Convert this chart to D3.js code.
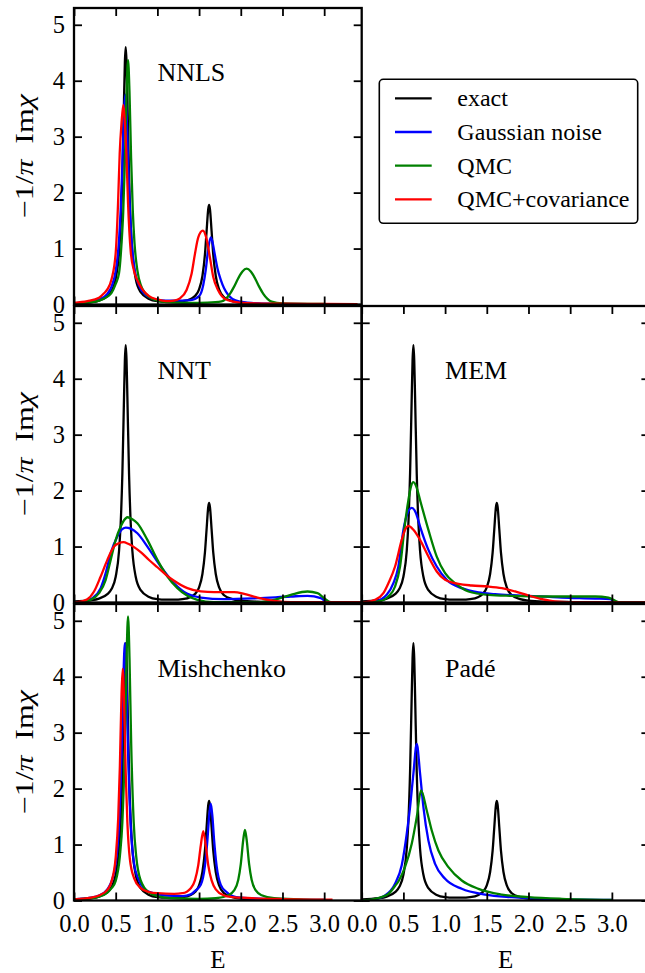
<!DOCTYPE html>
<html><head><meta charset="utf-8">
<script src="https://cdn.jsdelivr.net/npm/d3@7"></script>
<style>
body{margin:0;background:#fff}
svg{display:block}
text{font-family:"Liberation Serif","Times New Roman",serif;fill:#000}
</style>
</head><body>
<svg id="c" width="645" height="973"></svg>
<script>
// ---------- data ----------
const xTicks = [0, 0.5, 1.0, 1.5, 2.0, 2.5, 3.0];
const yTicks = [0, 1, 2, 3, 4, 5];
const seriesNames = ["exact", "Gaussian noise", "QMC", "QMC+covariance"];
const seriesColors = ["#000000", "#0000ff", "#008000", "#ff0000"];
const panelTitles = ["NNLS", "NNT", "MEM", "Mishchenko", "Padé"];

const exact = [[0,0.02],[0.2,0.04],[0.3,0.07],[0.4,0.15],[0.45,0.24],[0.5,0.46],[0.54,0.92],[0.56,1.42],[0.58,2.3],[0.6,3.68],[0.61,4.33],[0.62,4.6],[0.63,4.33],[0.64,3.68],[0.66,2.3],[0.68,1.42],[0.7,0.92],[0.74,0.46],[0.8,0.22],[0.9,0.1],[1.0,0.06],[1.1,0.05],[1.2,0.05],[1.3,0.06],[1.4,0.1],[1.45,0.15],[1.5,0.27],[1.54,0.51],[1.57,0.89],[1.59,1.31],[1.61,1.71],[1.62,1.78],[1.63,1.71],[1.65,1.31],[1.67,0.89],[1.7,0.51],[1.74,0.27],[1.8,0.13],[1.9,0.06],[2.0,0.035],[2.2,0.016],[2.5,0.008],[3.0,0.004]];

const nnlsGauss = [[0,0.02],[0.2,0.05],[0.3,0.09],[0.4,0.19],[0.45,0.32],[0.5,0.6],[0.54,1.15],[0.56,1.7],[0.58,2.52],[0.6,3.44],[0.615,3.75],[0.63,3.44],[0.65,2.52],[0.67,1.7],[0.69,1.15],[0.73,0.6],[0.78,0.34],[0.85,0.18],[0.9,0.13],[1.0,0.08],[1.2,0.07],[1.4,0.08],[1.5,0.15],[1.55,0.35],[1.58,0.62],[1.61,1.0],[1.64,1.2],[1.66,1.12],[1.69,0.88],[1.72,0.65],[1.76,0.44],[1.8,0.29],[1.85,0.17],[1.9,0.1],[2.0,0.05],[2.2,0.02],[2.5,0.01],[3.0,0.005]];
const nnlsQMC = [[0,0.02],[0.2,0.04],[0.3,0.07],[0.4,0.14],[0.45,0.21],[0.5,0.37],[0.54,0.56],[0.57,1.09],[0.59,1.64],[0.61,2.55],[0.63,3.77],[0.648,4.37],[0.665,3.82],[0.685,2.61],[0.705,1.68],[0.725,1.11],[0.76,0.61],[0.8,0.35],[0.9,0.135],[1.0,0.07],[1.1,0.045],[1.2,0.035],[1.4,0.03],[1.6,0.035],[1.77,0.056],[1.82,0.1],[1.87,0.19],[1.92,0.32],[1.97,0.47],[2.02,0.59],[2.07,0.64],[2.12,0.59],[2.17,0.47],[2.22,0.32],[2.27,0.19],[2.32,0.1],[2.37,0.05],[2.5,0.02],[3.0,0.01]];
const nnlsCov = [[0,0.03],[0.16,0.06],[0.3,0.12],[0.36,0.2],[0.4,0.27],[0.45,0.45],[0.5,0.92],[0.528,1.8],[0.548,2.7],[0.57,3.25],[0.592,3.57],[0.61,3.25],[0.628,2.7],[0.648,1.81],[0.68,0.95],[0.72,0.6],[0.76,0.43],[0.82,0.27],[0.9,0.15],[1.0,0.09],[1.1,0.06],[1.2,0.07],[1.27,0.11],[1.35,0.26],[1.41,0.55],[1.45,0.9],[1.49,1.2],[1.545,1.32],[1.59,1.17],[1.63,0.84],[1.67,0.49],[1.73,0.25],[1.81,0.1],[1.91,0.05],[2.07,0.025],[2.5,0.015],[3.0,0.01],[3.4,0.008]];

const nntGauss = [[0,0],[0.08,0.006],[0.22,0.077],[0.32,0.256],[0.38,0.524],[0.44,0.881],[0.52,1.179],[0.57,1.3],[0.62,1.34],[0.68,1.32],[0.76,1.238],[0.88,1.0],[1.04,0.643],[1.2,0.345],[1.36,0.155],[1.52,0.089],[1.8,0.06],[2.2,0.077],[2.6,0.107],[2.8,0.119],[2.96,0.077],[3.04,0.006],[3.45,0]];
const nntQMC = [[0,0],[0.08,0.006],[0.2,0.048],[0.3,0.167],[0.38,0.405],[0.44,0.762],[0.5,1.119],[0.56,1.358],[0.6,1.47],[0.64,1.524],[0.7,1.49],[0.76,1.417],[0.88,1.119],[1.0,0.762],[1.12,0.465],[1.24,0.256],[1.36,0.119],[1.48,0.048],[1.68,0.006],[2.2,0.006],[2.4,0.048],[2.6,0.137],[2.8,0.197],[2.92,0.167],[3.0,0.077],[3.08,0.006],[3.45,0]];
const nntCov = [[0,0.005],[0.04,0.006],[0.16,0.06],[0.24,0.197],[0.32,0.465],[0.4,0.762],[0.48,1.0],[0.54,1.06],[0.592,1.078],[0.65,1.05],[0.72,0.99],[0.8,0.9],[0.9,0.76],[1.0,0.63],[1.1,0.5],[1.2,0.39],[1.36,0.256],[1.52,0.197],[1.68,0.185],[1.92,0.185],[2.04,0.155],[2.2,0.089],[2.4,0.03],[2.6,0.006],[3.44,0.006]];

const memGauss = [[0,0],[0.16,0.018],[0.3,0.137],[0.38,0.345],[0.44,0.643],[0.5,1.298],[0.55,1.6],[0.6,1.69],[0.65,1.6],[0.7,1.358],[0.8,0.94],[0.9,0.643],[1.02,0.405],[1.2,0.256],[1.4,0.179],[1.6,0.149],[2.0,0.119],[2.4,0.089],[2.8,0.071],[2.98,0.06],[3.04,0],[3.45,0]];
const memQMC = [[0,0],[0.2,0.018],[0.32,0.107],[0.4,0.286],[0.46,0.643],[0.52,1.417],[0.56,1.83],[0.592,2.08],[0.62,2.15],[0.66,2.05],[0.7,1.83],[0.8,1.298],[0.9,0.821],[1.0,0.524],[1.12,0.345],[1.28,0.197],[1.52,0.137],[1.8,0.119],[2.2,0.107],[2.8,0.107],[2.96,0.089],[3.08,0.006],[3.45,0]];
const memCov = [[0,0.003],[0.04,0.006],[0.16,0.048],[0.26,0.167],[0.32,0.345],[0.4,0.643],[0.48,1.119],[0.52,1.3],[0.56,1.37],[0.62,1.3],[0.7,1.119],[0.8,0.821],[0.9,0.554],[1.0,0.405],[1.16,0.333],[1.32,0.304],[1.52,0.286],[1.68,0.256],[1.84,0.197],[2.0,0.125],[2.16,0.06],[2.32,0.018],[2.6,0.002],[3.44,0.002]];

const mishGauss = [[0,0.02],[0.2,0.05],[0.3,0.09],[0.4,0.2],[0.45,0.34],[0.5,0.66],[0.54,1.34],[0.57,2.57],[0.59,3.84],[0.61,4.6],[0.63,3.84],[0.65,2.57],[0.68,1.34],[0.72,0.66],[0.77,0.39],[0.85,0.2],[0.95,0.13],[1.1,0.09],[1.3,0.08],[1.4,0.11],[1.45,0.17],[1.52,0.28],[1.57,0.62],[1.6,1.08],[1.62,1.5],[1.64,1.73],[1.66,1.5],[1.68,1.08],[1.71,0.62],[1.76,0.28],[1.83,0.15],[1.9,0.08],[2.0,0.05],[2.5,0.02],[3.0,0.01]];
const mishQMC = [[0,0.02],[0.2,0.04],[0.3,0.07],[0.4,0.14],[0.45,0.22],[0.5,0.35],[0.55,0.79],[0.58,1.4],[0.61,2.79],[0.63,4.3],[0.648,5.08],[0.666,4.3],[0.686,2.79],[0.716,1.4],[0.746,0.79],[0.8,0.36],[0.9,0.14],[1.0,0.08],[1.2,0.04],[1.5,0.03],[1.7,0.04],[1.85,0.094],[1.92,0.18],[1.97,0.37],[2.0,0.65],[2.03,1.09],[2.05,1.26],[2.07,1.09],[2.1,0.65],[2.13,0.37],[2.18,0.18],[2.25,0.094],[2.4,0.04],[2.7,0.02],[3.0,0.01]];
const mishCov = [[0,0.02],[0.2,0.05],[0.3,0.09],[0.4,0.19],[0.45,0.34],[0.5,0.77],[0.53,1.47],[0.55,2.4],[0.57,3.69],[0.584,4.14],[0.6,3.57],[0.62,2.29],[0.64,1.4],[0.67,0.74],[0.72,0.4],[0.8,0.22],[0.9,0.15],[1.0,0.13],[1.2,0.12],[1.3,0.13],[1.4,0.22],[1.45,0.36],[1.49,0.63],[1.52,0.98],[1.55,1.24],[1.58,0.98],[1.61,0.63],[1.65,0.36],[1.7,0.2],[1.8,0.09],[1.9,0.06],[2.0,0.05],[2.5,0.025],[3.1,0.015]];

const padeGauss = [[0,0],[0.12,0.012],[0.28,0.09],[0.4,0.3],[0.48,0.63],[0.54,1.19],[0.58,1.67],[0.62,2.27],[0.66,2.8],[0.7,2.27],[0.74,1.67],[0.8,1.07],[0.88,0.656],[1.0,0.388],[1.2,0.209],[1.48,0.107],[1.8,0.06],[2.2,0.03],[3.0,0.012]];
const padeQMC = [[0,0],[0.16,0.03],[0.32,0.119],[0.4,0.26],[0.44,0.34],[0.52,0.6],[0.6,1.013],[0.66,1.491],[0.712,1.968],[0.78,1.61],[0.84,1.252],[0.92,0.894],[1.04,0.596],[1.2,0.358],[1.4,0.209],[1.68,0.107],[2.0,0.06],[2.4,0.03],[3.0,0.012]];

// ---------- layout ----------
const colX = [74, 361.7], colW = 287.7;
const rowY = [8, 306, 604], rowH = 296.5;
const xMax = 3.45, yMax = 5.3;
const serif = '"Liberation Serif","Times New Roman",serif';

const panels = [
  {title: panelTitles[0], col: 0, row: 0, series: [exact, nnlsGauss, nnlsQMC, nnlsCov]},
  {title: panelTitles[1], col: 0, row: 1, series: [exact, nntGauss, nntQMC, nntCov]},
  {title: panelTitles[2], col: 1, row: 1, series: [exact, memGauss, memQMC, memCov]},
  {title: panelTitles[3], col: 0, row: 2, series: [exact, mishGauss, mishQMC, mishCov]},
  {title: panelTitles[4], col: 1, row: 2, series: [exact, padeGauss, padeQMC, null]}
];

const svg = d3.select("#c");
const defs = svg.append("defs");

panels.forEach((p, i) => {
  const x0 = colX[p.col], y0 = rowY[p.row];
  const x = d3.scaleLinear().domain([0, xMax]).range([x0, x0 + colW]);
  const y = d3.scaleLinear().domain([0, yMax]).range([y0 + rowH, y0]);
  const g = svg.append("g");

  defs.append("clipPath").attr("id", "clip" + i)
    .append("rect").attr("x", x0).attr("y", y0).attr("width", colW).attr("height", rowH);

  const line = d3.line().x(d => x(d[0])).y(d => y(d[1])).curve(d3.curveMonotoneX);
  const lg = g.append("g").attr("clip-path", `url(#clip${i})`);
  p.series.forEach((s, k) => {
    if (!s) return;
    lg.append("path").datum(s).attr("d", line)
      .attr("fill", "none").attr("stroke", seriesColors[k])
      .attr("stroke-width", 2.3).attr("stroke-linejoin", "round");
  });

  // title
  g.append("text").attr("x", x(1.0)).attr("y", y(4.0))
    .style("font-family", serif).style("font-size", "26px").text(p.title);

  const isBottom = p.row === 2, isLeft = p.col === 0;
  const fmtX = isBottom ? d3.format(".1f") : () => "";
  const fmtY = isLeft ? d3.format("d") : () => "";

  const axB = g.append("g").attr("transform", `translate(0,${y0 + rowH})`)
    .call(d3.axisBottom(x).tickValues(xTicks).tickSizeInner(-8).tickSizeOuter(0).tickPadding(14).tickFormat(fmtX));
  const axT = g.append("g").attr("transform", `translate(0,${y0})`)
    .call(d3.axisTop(x).tickValues(xTicks).tickSizeInner(-8).tickSizeOuter(0).tickFormat(() => ""));
  const axL = g.append("g").attr("transform", `translate(${x0},0)`)
    .call(d3.axisLeft(y).tickValues(yTicks).tickSizeInner(-8).tickSizeOuter(0).tickPadding(9).tickFormat(fmtY));
  const axR = g.append("g").attr("transform", `translate(${x0 + colW},0)`)
    .call(d3.axisRight(y).tickValues(yTicks).tickSizeInner(-8).tickSizeOuter(0).tickFormat(() => ""));
  [axB, axT, axL, axR].forEach(a => {
    a.attr("font-family", null).attr("font-size", null);
    a.select(".domain").remove();
    a.selectAll(".tick line").attr("stroke", "#000").attr("stroke-width", 1.8);
    a.selectAll(".tick text").style("font-size", "24.5px")
      .style("font-family", serif).attr("fill", "#000");
  });

  // spines
  g.append("rect").attr("x", x0).attr("y", y0).attr("width", colW).attr("height", rowH)
    .attr("fill", "none").attr("stroke", "#000").attr("stroke-width", 2.3);

  // y label
  if (isLeft) {
    const t = g.append("text")
      .attr("transform", `translate(33,${y0 + rowH / 2}) rotate(-90)`)
      .attr("text-anchor", "middle").style("font-family", serif).style("font-size", "25px")
      .attr("textLength", 124).attr("lengthAdjust", "spacingAndGlyphs");
    t.append("tspan").text("\u22121/");
    t.append("tspan").style("font-style", "italic").text("\u03c0");
    t.append("tspan").text("\u2002Im");
    t.append("tspan").style("font-style", "italic").text("\u03c7");
  }
  // x label
  if (isBottom) {
    g.append("text").attr("x", x0 + colW / 2).attr("y", 968)
      .attr("text-anchor", "middle").style("font-family", serif).style("font-size", "25px").text("E");
  }
});

// ---------- legend ----------
const leg = svg.append("g");
leg.append("rect").attr("x", 379.3).attr("y", 79.3).attr("width", 258.4).attr("height", 144)
  .attr("rx", 4).attr("fill", "#fff").attr("stroke", "#000").attr("stroke-width", 1.6);
seriesNames.forEach((n, k) => {
  const ly = 98.3 + k * 33.7;
  leg.append("line").attr("x1", 395).attr("x2", 431.7).attr("y1", ly).attr("y2", ly)
    .attr("stroke", seriesColors[k]).attr("stroke-width", 2.3);
  leg.append("text").attr("x", 457.3).attr("y", ly + 8)
    .style("font-family", serif).style("font-size", "24px").text(n);
});
</script>
</body></html>
